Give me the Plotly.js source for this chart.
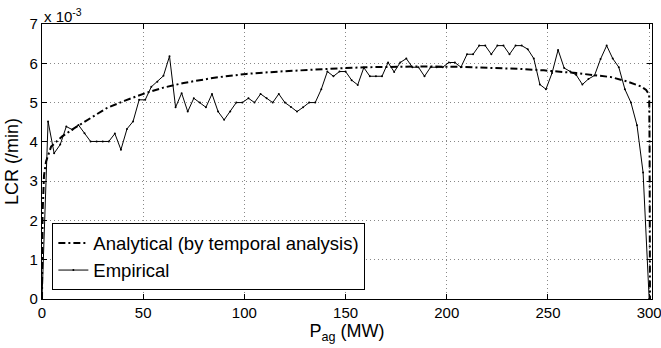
<!DOCTYPE html>
<html>
<head>
<meta charset="utf-8">
<script src="https://cdn.plot.ly/plotly-3.0.1.min.js"></script>
<style>html,body{margin:0;padding:0;background:#fff;}#chart{width:661px;height:348px;}</style>
</head>
<body>
<div id="chart"></div>
<script>
// LCR values are in units of 10^-3 /min
const empiricalX = [0,3,6,9,12,15,18,21,24,27,30,33,36,39,42,45,48,51,54,57,60,63,66,69,72,75,78,81,84,87,90,93,96,99,102,105,108,111,114,117,120,123,126,129,132,135,138,141,144,147,150,153,156,159,162,165,168,171,174,177,180,183,186,189,192,195,198,201,204,207,210,213,216,219,222,225,228,231,234,237,240,243,246,249,252,255,258,261,264,267,270,273,276,279,282,285,288,291,294,297,300];
const empiricalY = [0,4.52,3.71,3.93,4.39,4.31,4.43,4.22,4.01,4.01,4.01,4.01,4.21,3.80,4.33,4.52,5.07,5.07,5.40,5.53,5.68,6.18,4.88,5.24,4.77,5.11,5.00,4.88,5.22,4.77,4.56,4.77,5.00,5.00,5.11,5.00,5.22,5.11,5.00,5.22,5.00,4.89,4.77,4.88,5.00,5.00,5.34,5.79,5.67,5.79,5.79,5.57,5.45,5.89,5.67,5.67,5.67,6.02,5.78,6.02,6.12,5.90,5.90,5.67,5.90,5.90,5.90,6.02,6.02,5.90,6.23,6.23,6.45,6.45,6.23,6.45,6.45,6.23,6.45,6.45,6.36,6.12,5.46,5.34,5.75,6.34,5.88,5.79,5.70,5.46,5.60,5.69,6.11,6.45,6.12,5.90,5.34,5.00,4.42,3.22,0];
const analyticalX = [0,0.3,1,2,4.5,10,16,24,32,41,51,60,70,86,101,117,130,146,160,176,190,205,220,235,248,264,281,289,296,298.5,300,300.2,300.4];
const analyticalY = [0,2.2,3.15,3.5,3.88,4.14,4.35,4.6,4.86,5.05,5.24,5.38,5.5,5.64,5.73,5.79,5.83,5.87,5.9,5.92,5.92,5.91,5.89,5.86,5.82,5.75,5.65,5.54,5.41,5.32,5.2,4.0,0];
const xTicks = [0,50,100,150,200,250,300];
const yTicks = [0,1,2,3,4,5,6,7];
const seriesNames = ['Analytical (by temporal analysis)', 'Empirical'];

const font = 'Liberation Sans, Arial, Helvetica, sans-serif';
const traces = [
  {x: analyticalX, y: analyticalY, name: seriesNames[0], mode: 'lines',
   line: {color: '#000', width: 2, dash: '7px,3px,2px,3px'}},
  {x: empiricalX, y: empiricalY, name: seriesNames[1], mode: 'lines+markers',
   line: {color: '#000', width: 1}, marker: {color: '#000', size: 2}}
];
const axisCommon = {
  showline: true, linecolor: '#000', linewidth: 1.2, mirror: 'ticks',
  ticks: 'inside', ticklen: 5, tickcolor: '#000', tickwidth: 1,
  showgrid: true, gridcolor: '#888', griddash: '1px,3px', gridwidth: 1,
  zeroline: false, ticklabeloverflow: 'allow',
  tickfont: {family: font, size: 15, color: '#000'}
};
const layout = {
  width: 661, height: 348,
  margin: {l: 42, r: 9, t: 24, b: 49},
  paper_bgcolor: '#fff', plot_bgcolor: '#fff',
  showlegend: true,
  legend: {x: 0.017, y: 0.031, xanchor: 'left', yanchor: 'bottom',
    bgcolor: '#fff', bordercolor: '#000', borderwidth: 1,
    font: {family: font, size: 18.5, color: '#000'}, itemwidth: 30,
    tracegroupgap: 0},
  xaxis: Object.assign({}, axisCommon, {range: [0, 301.4], tickvals: xTicks,
    title: {text: 'P<sub>ag</sub> (MW)', font: {family: font, size: 18, color: '#000'}, standoff: 1}}),
  yaxis: Object.assign({}, axisCommon, {range: [0, 7], tickvals: yTicks,
    title: {text: 'LCR (/min)', font: {family: font, size: 18, color: '#000'}, standoff: 6}}),
  annotations: [{xref: 'paper', yref: 'paper', x: 0, y: 1, xanchor: 'left', yanchor: 'bottom',
    yshift: -3, text: 'x 10<sup>-3</sup>', showarrow: false,
    font: {family: font, size: 15, color: '#000'}}]
};
Plotly.newPlot('chart', traces, layout, {displayModeBar: false, staticPlot: true});
</script>
</body>
</html>
